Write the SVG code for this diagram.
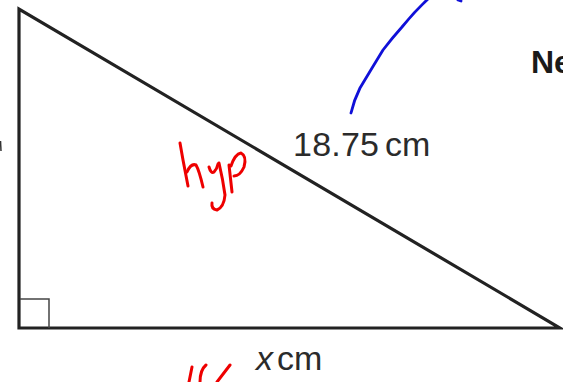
<svg xmlns="http://www.w3.org/2000/svg" width="563" height="382" viewBox="0 0 563 382">
<style>
.edge{fill:none;stroke:#222;stroke-width:3.2;stroke-linejoin:miter}
.lbl{font-family:"Liberation Sans",Arial,sans-serif;font-size:34px;fill:#2b2b2b}
.red{fill:none;stroke:#e00;stroke-width:3;stroke-linecap:round;stroke-linejoin:round}
.blue{fill:none;stroke:#1010d8;stroke-width:2.8;stroke-linecap:round;stroke-linejoin:round}
</style>
<rect width="563" height="382" fill="#fff"/>
<g id="triangle">
<path class="edge" d="M19,9 L19,328 L560,328 Z"/>
<path d="M20,299 H49 V328" fill="none" stroke="#444" stroke-width="1.5"/>
</g>
<g id="labels">
<text class="lbl" x="293" y="156" textLength="86">18.75</text>
<text class="lbl" x="385" y="156">cm</text>
<text class="lbl" x="256" y="370" font-style="italic">x</text>
<text class="lbl" x="277" y="370">cm</text>
<text x="531" y="73" font-family="'Liberation Sans',Arial,sans-serif" font-weight="bold" font-size="32" fill="#1a1a1a">Ne</text>
<path d="M0.5,141 L1,151" stroke="#333" stroke-width="1.5"/>
</g>
<g id="annotations">
<path class="red" d="M180,143 L183,160 L188,186"/>
<path class="red" d="M187,172 Q191,163 196,165 Q199,170 203,187"/>
<path class="red" d="M209,167 Q211,174 214,172 Q217,169 218,164"/>
<path class="red" d="M219,163 Q223,180 225,195 Q224,207 217,210 Q211,209 212,203"/>
<path class="red" d="M229,165 L232,192"/>
<path class="red" d="M231,166 Q235,154 241,153 Q247,156 244,167 Q240,176 234,176"/>
<path class="red" d="M192,367 L189,382"/>
<path class="red" d="M206,365 Q200,370 200,382"/>
<path class="red" d="M230,365 L217,382"/>
<path class="blue" d="M351,113 Q354,100 360,88 Q372,68 383,50 Q393,37 402,27 Q415,11 428,-1"/>
<path class="blue" d="M458,0 L461,1"/>
</g>
</svg>
